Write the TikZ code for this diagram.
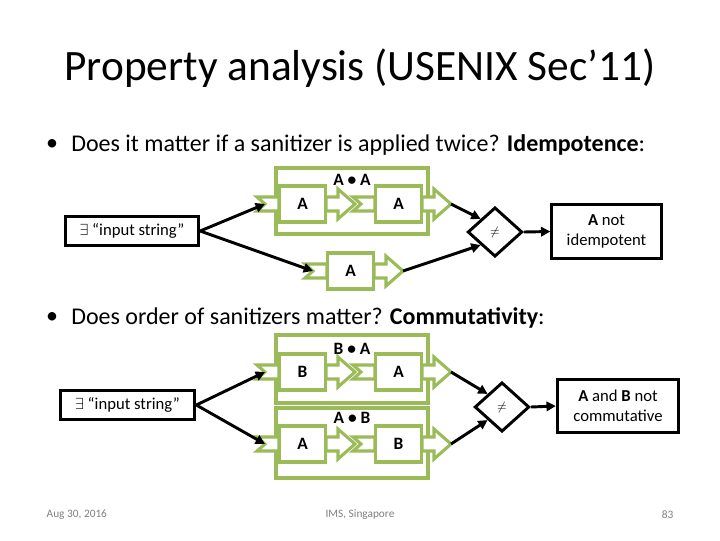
\documentclass[tikz,border=0pt]{standalone}
\usepackage{fontspec}
\setmainfont{Carlito}
\usetikzlibrary{shapes.geometric,arrows.meta}
\definecolor{sgreen}{RGB}{155,187,89}
\begin{document}
\begin{tikzpicture}[x=0.75pt,y=-0.75pt,
  sg/.style={draw=sgreen,line width=2.3pt,fill=white,line join=miter},
  sbox/.style={sg,rectangle,minimum width=35pt,minimum height=27pt,inner sep=0pt,font=\bfseries\fontsize{13}{15}\selectfont},
  outer/.style={draw=sgreen,line width=2.3pt},
  conn/.style={draw=black,line width=2.2pt,-{Triangle[length=7pt,width=7pt]}},
  blk/.style={draw=black,line width=2.2pt,rectangle,fill=white},
  dia/.style={blk,diamond,minimum width=41pt,minimum height=37pt,inner sep=0pt,font=\small},
  lbl/.style={font=\bfseries\fontsize{13}{15}\selectfont},
  san/.pic={
    \coordinate (-in) at (8,0);
    \coordinate (-out) at (98,0);
    \draw[sg] (0,-7) -- (22,-7) -- (22,7) -- (0,7) -- (8,0) -- cycle;
    \draw[sg] (69,-7) -- (81,-7) -- (81,-15) -- (98,0) -- (81,15) -- (81,7) -- (69,7) -- cycle;
    \node[sbox] (-box) at (45.5,0) {#1};
  }]
\useasboundingbox (0,0) rectangle (720,540);
\node (title) at (360,68) {\fontsize{32.5}{36}\selectfont Property analysis (USENIX Sec{\char"0027}11)};
\node (b1) at (52,145) {\fontsize{18}{21}\selectfont\textbullet};
\node[anchor=west,inner sep=0pt] (t1) at (71,145) {\fontsize{18}{21}\selectfont Does it matter if a sanitizer is applied twice? \textbf{Idempotence}:};
\node (b2) at (52,318) {\fontsize{18}{21}\selectfont\textbullet};
\node[anchor=west,inner sep=0pt] (t2) at (71,318) {\fontsize{18}{21}\selectfont Does order of sanitizers matter? \textbf{Commutativity}:};

% diagram 1
\draw[outer] (276,168) rectangle (428,234);
\node[lbl] (l1) at (352,180) {A \textbullet\ A};
\pic (s1) at (257,204) {san={A}};
\pic (s2) at (353,204) {san={A}};
\pic (s3) at (305,271) {san={A}};
\node[blk,minimum width=100pt,minimum height=22pt,inner sep=0pt,font=\fontsize{12.5}{15}\selectfont] (in1) at (132,231) {$\exists$ “input string”};
\node[dia] (d1) at (495,232) {$\neq$};
\node[blk,minimum width=82pt,minimum height=41pt,inner sep=0pt,align=center,font=\fontsize{12.5}{15}\selectfont] (r1) at (606.5,231.5) {\textbf{A} not\\idempotent};
\draw[conn] (in1.east) -- (s1-in);
\draw[conn] (in1.east) -- (s3-in);
\draw[conn] (s2-out) -- (d1.north west);
\draw[conn] (s3-out) -- (d1.south west);
\draw[conn] (d1.east) -- (r1.west);

% diagram 2
\draw[outer] (276,335) rectangle (428,403);
\node[lbl] (l2) at (352,349) {B \textbullet\ A};
\draw[outer] (276,408) rectangle (428,478);
\node[lbl] (l3) at (352,418) {A \textbullet\ B};
\pic (s4) at (257,372) {san={B}};
\pic (s5) at (353,372) {san={A}};
\pic (s6) at (257,444) {san={A}};
\pic (s7) at (353,444) {san={B}};
\node[blk,minimum width=101pt,minimum height=22pt,inner sep=0pt,font=\fontsize{12.5}{15}\selectfont] (in2) at (127.5,405) {$\exists$ “input string”};
\node[dia] (d2) at (502,407) {$\neq$};
\node[blk,minimum width=91pt,minimum height=40pt,inner sep=0pt,align=center,font=\fontsize{12.5}{15}\selectfont] (r2) at (618,406) {\textbf{A} and \textbf{B} not\\commutative};
\draw[conn] (in2.east) -- (s4-in);
\draw[conn] (in2.east) -- (s6-in);
\draw[conn] (s5-out) -- (d2.north west);
\draw[conn] (s7-out) -- (d2.south west);
\draw[conn] (d2.east) -- (r2.west);

% footer
\node[text=gray,font=\fontsize{8.5}{10}\selectfont,anchor=west] (f1) at (42,515) {Aug 30, 2016};
\node[text=gray,font=\fontsize{8.5}{10}\selectfont] (f2) at (360,515) {IMS, Singapore};
\node[text=gray,font=\fontsize{8.5}{10}\selectfont,anchor=east] (f3) at (678,515) {83};
\end{tikzpicture}
\end{document}
